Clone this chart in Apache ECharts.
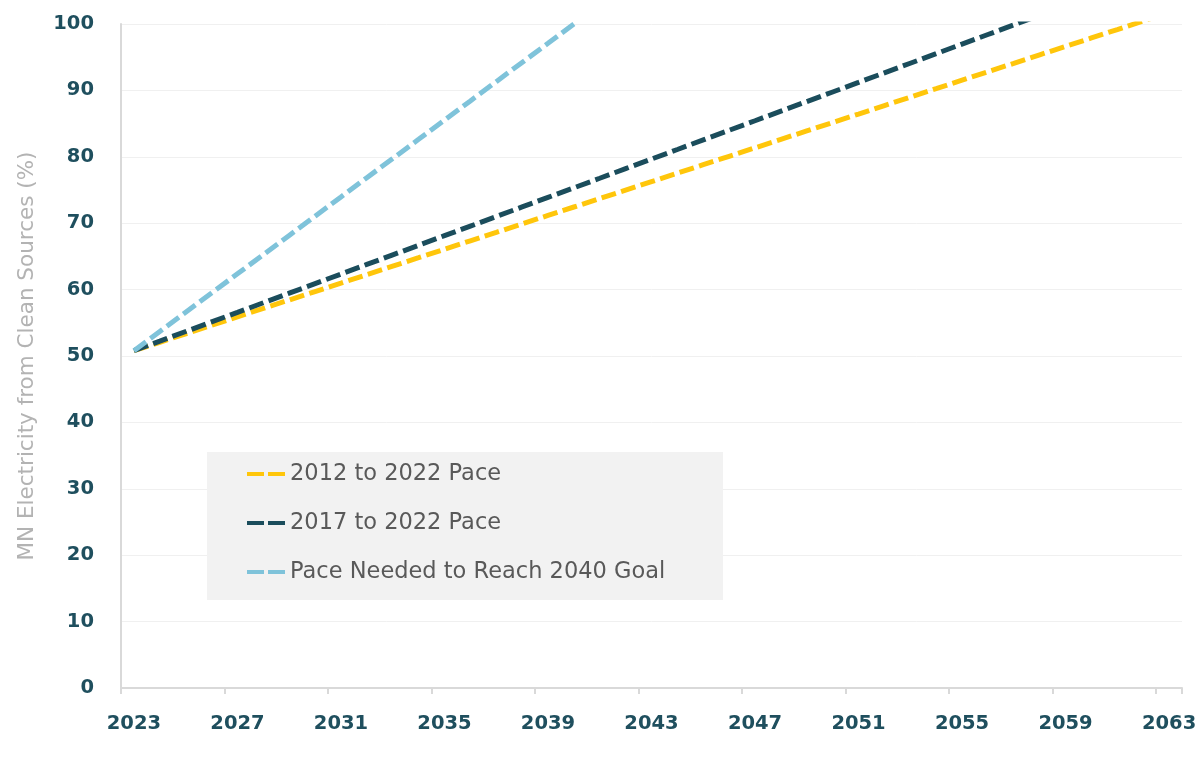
<!DOCTYPE html>
<html>
<head>
<meta charset="utf-8">
<script src="https://cdn.jsdelivr.net/npm/echarts@6/dist/echarts.min.js"></script>
<style>html,body{margin:0;padding:0;background:#fff;}#c{width:1200px;height:766px;}</style>
</head>
<body>
<div id="c"></div>
<script>
const years = ['2023','2024','2025','2026','2027','2028','2029','2030','2031','2032','2033','2034','2035','2036','2037','2038','2039','2040','2041','2042','2043','2044','2045','2046','2047','2048','2049','2050','2051','2052','2053','2054','2055','2056','2057','2058','2059','2060','2061','2062','2063'];
const pace2012 = [50.8,52.07,53.35,54.62,55.89,57.17,58.44,59.71,60.98,62.26,63.53,64.8,66.08,67.35,68.62,69.9,71.17,72.44,73.71,74.99,76.26,77.53,78.81,80.08,81.35,82.63,83.9,85.17,86.44,87.72,88.99,90.26,91.54,92.81,94.08,95.36,96.63,97.9,99.17,100.45,101.72];
const pace2017 = [50.8,52.24,53.69,55.13,56.57,58.02,59.46,60.9,62.34,63.79,65.23,66.67,68.12,69.56,71.0,72.45,73.89,75.33,76.77,78.22,79.66,81.1,82.55,83.99,85.43,86.88,88.32,89.76,91.2,92.65,94.09,95.53,96.98,98.42,99.86,101.31];
const paceGoal = [50.8,53.69,56.59,59.48,62.38,65.27,68.16,71.06,73.95,76.85,79.74,82.63,85.53,88.42,91.32,94.21,97.1,100.0];
const seriesNames = ['2012 to 2022 Pace','2017 to 2022 Pace','Pace Needed to Reach 2040 Goal'];
const yAxisTitle = 'MN Electricity from Clean Sources (%)';

const colors = ['#FFC60B','#1B4D5C','#7FC3DA'];
const chart = echarts.init(document.getElementById('c'), null, {renderer:'canvas'});
const tickFont = {color:'#1F4F5E', fontFamily:'DejaVu Sans', fontWeight:'bold', fontSize:19.5};
function mk(name, data, color){
  return {name, type:'line', data, symbol:'none', showSymbol:false, clip:true,
    lineStyle:{color, width:5, type:[15,5.5], cap:'butt'}, itemStyle:{color}, z:3};
}
chart.setOption({
  animation:false,
  backgroundColor:'#ffffff',
  grid:{left:121, right:18, top:24, bottom:78, containLabel:false},
  graphic:[{type:'rect', shape:{x:207, y:452, width:516, height:148}, style:{fill:'#F2F2F2'}, z:1, silent:true}],
  legend:{
    orient:'vertical', left:247, top:459, padding:0,
    icon:'path://M0 0H17V4H0Z M21 0H38V4H21Z',
    itemWidth:38, itemHeight:4.5, itemGap:19,
    textStyle:{color:'#595959', fontFamily:'DejaVu Sans', fontSize:22.5, lineHeight:30},
    data:seriesNames, z:5
  },
  xAxis:{
    type:'category', data:years, boundaryGap:true,
    axisLine:{lineStyle:{color:'#D9D9D9', width:2}},
    axisTick:{show:true, interval:3, alignWithLabel:false, length:6, lineStyle:{color:'#D9D9D9', width:2}},
    axisLabel:Object.assign({interval:3, margin:26}, tickFont),
    splitLine:{show:false}
  },
  yAxis:{
    type:'value', min:0, max:100, interval:10,
    name:yAxisTitle, nameLocation:'middle', nameGap:83, nameRotate:90,
    nameTextStyle:{color:'#B3B3B3', fontFamily:'DejaVu Sans', fontSize:21.5},
    axisLine:{show:true, lineStyle:{color:'#D9D9D9', width:2}},
    axisTick:{show:false},
    axisLabel:Object.assign({margin:27}, tickFont),
    splitLine:{lineStyle:{color:'#F0F0F0', width:1}}
  },
  series:[mk(seriesNames[0], pace2012, colors[0]), mk(seriesNames[1], pace2017, colors[1]), mk(seriesNames[2], paceGoal, colors[2])]
});
</script>
</body>
</html>
